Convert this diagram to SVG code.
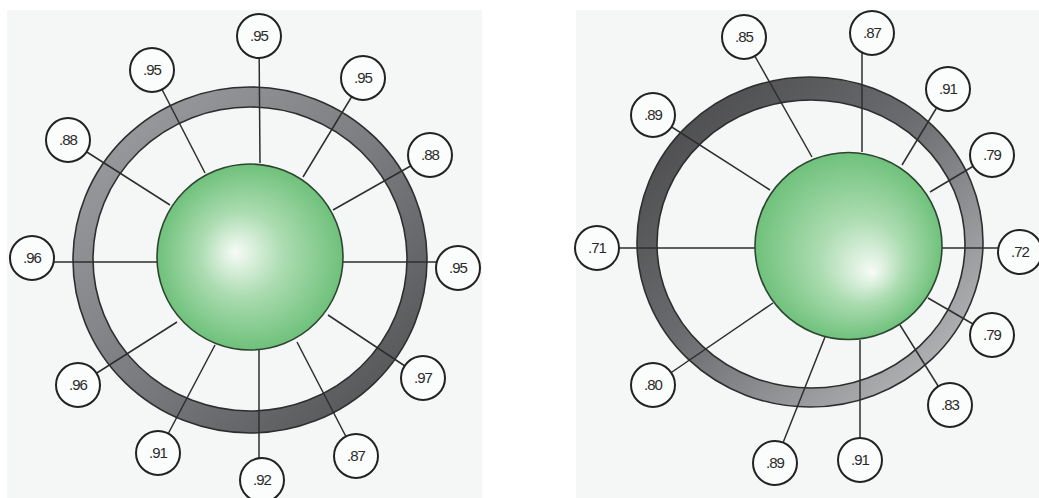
<svg xmlns="http://www.w3.org/2000/svg" width="1039" height="498" viewBox="0 0 1039 498">
<style>
.lbl circle{fill:#fbfcfc;stroke:#222;stroke-width:2}
.lbl text{font-family:"Liberation Sans",Arial,sans-serif;font-size:15px;fill:#2a2a2a;text-anchor:middle;letter-spacing:-1px}
.sp line{stroke:#2e2e2e;stroke-width:1.5}
.ring{fill-rule:evenodd;stroke:#2e2e2e;stroke-width:1.6}
.core{stroke:#2d4632;stroke-width:1.6}
</style>
<defs>
<linearGradient id="ringL" x1="0" y1="0" x2="1" y2="1">
<stop offset="0" stop-color="#a0a2a5"/><stop offset="0.5" stop-color="#7b7d80"/><stop offset="1" stop-color="#4c4c4e"/>
</linearGradient>
<linearGradient id="ringR" x1="0" y1="0" x2="1" y2="1">
<stop offset="0" stop-color="#444446"/><stop offset="0.45" stop-color="#6a6b6e"/><stop offset="1" stop-color="#c6c7c9"/>
</linearGradient>
<radialGradient id="gL" gradientUnits="userSpaceOnUse" cx="250" cy="257" r="93" fx="235" fy="252">
<stop offset="0" stop-color="#f7fbf7"/><stop offset="0.45" stop-color="#acdcb1"/><stop offset="1" stop-color="#6fc17b"/>
</radialGradient>
<radialGradient id="gR" gradientUnits="userSpaceOnUse" cx="848.5" cy="246" r="94" fx="873" fy="273">
<stop offset="0" stop-color="#f7fbf7"/><stop offset="0.45" stop-color="#acdcb1"/><stop offset="1" stop-color="#6fc17b"/>
</radialGradient>
</defs>
<rect x="7" y="10" width="475" height="488" fill="#f5f7f7"/>
<rect x="576" y="10" width="463" height="488" fill="#f5f7f7"/>

<g id="ring-left">
<path class="ring" fill="url(#ringL)" d="M73,260 a177,173 0 1,0 354,0 a177,173 0 1,0 -354,0 Z M93,259 a157,152 0 1,0 314,0 a157,152 0 1,0 -314,0 Z"/>
</g>
<g id="ring-right">
<path class="ring" fill="url(#ringR)" d="M637,242 a173,165 0 1,0 346,0 a173,165 0 1,0 -346,0 Z M657,244 a154,144 0 1,0 308,0 a154,144 0 1,0 -308,0 Z"/>
</g>

<g id="connectors" class="sp">
<line x1="259" y1="36" x2="260" y2="163"/>
<line x1="152" y1="70" x2="205" y2="173"/>
<line x1="363" y1="78" x2="303" y2="177"/>
<line x1="68" y1="140" x2="170" y2="205"/>
<line x1="430" y1="155" x2="333" y2="210"/>
<line x1="32" y1="262" x2="157" y2="262"/>
<line x1="458" y1="262" x2="343" y2="262"/>
<line x1="78" y1="385" x2="177" y2="322"/>
<line x1="423" y1="378" x2="328" y2="315"/>
<line x1="158" y1="453" x2="215" y2="345"/>
<line x1="259" y1="480" x2="259" y2="350"/>
<line x1="356" y1="456" x2="297" y2="342"/>

<line x1="744" y1="37" x2="812" y2="157"/>
<line x1="862" y1="50" x2="862" y2="152"/>
<line x1="948" y1="89" x2="902" y2="165"/>
<line x1="653" y1="115" x2="770" y2="190"/>
<line x1="992" y1="155" x2="930" y2="192"/>
<line x1="597" y1="248" x2="755" y2="248"/>
<line x1="1020" y1="248" x2="942" y2="248"/>
<line x1="992" y1="335" x2="928" y2="298"/>
<line x1="653" y1="385" x2="773" y2="303"/>
<line x1="950" y1="405" x2="900" y2="325"/>
<line x1="775" y1="463" x2="825" y2="337"/>
<line x1="860" y1="460" x2="860" y2="340"/>
</g>

<g id="core-left"><circle class="core" cx="250" cy="257" r="93" fill="url(#gL)"/></g>
<g id="core-right"><circle class="core" cx="848.5" cy="246" r="93.5" fill="url(#gR)"/></g>

<g id="l1" class="lbl"><circle cx="259" cy="36" r="22"/><text x="259" y="41">.95</text></g>
<g id="l2" class="lbl"><circle cx="152" cy="70" r="22"/><text x="152" y="75">.95</text></g>
<g id="l3" class="lbl"><circle cx="363" cy="78" r="22"/><text x="363" y="83">.95</text></g>
<g id="l4" class="lbl"><circle cx="68" cy="140" r="22"/><text x="68" y="145">.88</text></g>
<g id="l5" class="lbl"><circle cx="430" cy="155" r="22"/><text x="430" y="160">.88</text></g>
<g id="l6" class="lbl"><circle cx="32" cy="258" r="22"/><text x="32" y="263">.96</text></g>
<g id="l7" class="lbl"><circle cx="458" cy="268" r="22"/><text x="458" y="273">.95</text></g>
<g id="l8" class="lbl"><circle cx="78" cy="385" r="22"/><text x="78" y="390">.96</text></g>
<g id="l9" class="lbl"><circle cx="423" cy="378" r="22"/><text x="423" y="383">.97</text></g>
<g id="l10" class="lbl"><circle cx="158" cy="453" r="22"/><text x="158" y="458">.91</text></g>
<g id="l11" class="lbl"><circle cx="262" cy="480" r="22"/><text x="262" y="485">.92</text></g>
<g id="l12" class="lbl"><circle cx="356" cy="456" r="22"/><text x="356" y="461">.87</text></g>

<g id="r1" class="lbl"><circle cx="744" cy="37" r="22"/><text x="744" y="42">.85</text></g>
<g id="r2" class="lbl"><circle cx="872" cy="33" r="22"/><text x="872" y="38">.87</text></g>
<g id="r3" class="lbl"><circle cx="948" cy="89" r="22"/><text x="948" y="94">.91</text></g>
<g id="r4" class="lbl"><circle cx="653" cy="115" r="22"/><text x="653" y="120">.89</text></g>
<g id="r5" class="lbl"><circle cx="992" cy="155" r="22"/><text x="992" y="160">.79</text></g>
<g id="r6" class="lbl"><circle cx="597" cy="248" r="22"/><text x="597" y="253">.71</text></g>
<g id="r7" class="lbl"><circle cx="1020" cy="252" r="22"/><text x="1020" y="257">.72</text></g>
<g id="r8" class="lbl"><circle cx="992" cy="335" r="22"/><text x="992" y="340">.79</text></g>
<g id="r9" class="lbl"><circle cx="653" cy="385" r="22"/><text x="653" y="390">.80</text></g>
<g id="r10" class="lbl"><circle cx="950" cy="405" r="22"/><text x="950" y="410">.83</text></g>
<g id="r11" class="lbl"><circle cx="775" cy="463" r="22"/><text x="775" y="468">.89</text></g>
<g id="r12" class="lbl"><circle cx="860" cy="460" r="22"/><text x="860" y="465">.91</text></g>
</svg>
